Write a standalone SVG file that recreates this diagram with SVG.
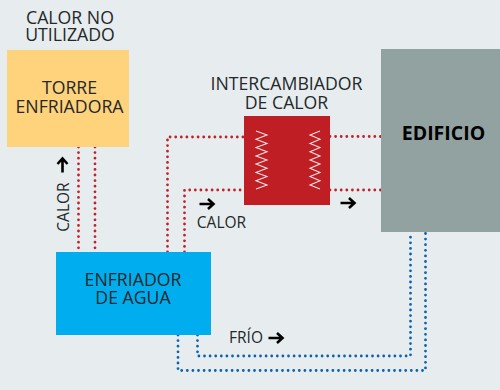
<svg xmlns="http://www.w3.org/2000/svg" width="500" height="390" viewBox="0 0 500 390">
<defs><path id="arr" d="M-7.500 0H6M1 -5L6.500 0L1 5" fill="none" stroke="#000" stroke-width="2.600"/></defs>
<style>
text{font-family:"Open Sans","Noto Sans","Liberation Sans",sans-serif;fill:#23282a;text-anchor:middle;font-weight:400}
.l{font-size:17.700px}.s{font-size:15.500px}
.r,.b{fill:none;stroke-width:2.800;stroke-linecap:round;stroke-dasharray:0 5.600}
.r{stroke:#c1202a}.b{stroke:#0a62ae}
.z{fill:none;stroke:#f6e2e2;stroke-width:1.100}
</style>
<rect width="500" height="390" fill="#e7edee"/>
<g id="connectors">
<path class="r" d="M78.500 147V252M95 147V252"/>
<path class="r" d="M167.500 252V137H244M184.500 252V190H244M330 136.500H381M330 190H381"/>
<path class="b" d="M178 335V370.500H425.500V232M197.500 335V356H410.500V232"/>
</g>
<g id="torre"><rect x="7" y="50" width="122" height="97" fill="#ffd27c"/>
<text class="l"><tspan x="69.500" y="93.500">TORRE</tspan><tspan x="69.500" y="112.500">ENFRIADORA</tspan></text></g>
<g id="calor-no-utilizado"><text class="l"><tspan x="70" y="24">CALOR NO</tspan><tspan x="70" y="41">UTILIZADO</tspan></text></g>
<g id="enfriador"><rect x="56" y="252" width="155" height="83" fill="#00aeef"/>
<text class="l"><tspan x="133" y="286">ENFRIADOR</tspan><tspan x="133" y="304">DE AGUA</tspan></text></g>
<g id="intercambiador"><rect x="244" y="116" width="86" height="89" fill="#be1e24"/>
<path class="z" d="M256 131L267 135.100L256 139.300L267 143.400L256 147.600L267 151.700L256 155.900L267 160L256 164.100L267 168.300L256 172.400L267 176.600L256 180.700L267 184.900L256 189"/>
<path class="z" d="M320 131L310 135.100L320 139.300L310 143.400L320 147.600L310 151.700L320 155.900L310 160L320 164.100L310 168.300L320 172.400L310 176.600L320 180.700L310 184.900L320 189"/>
<text class="l"><tspan x="286.500" y="90">INTERCAMBIADOR</tspan><tspan x="286.500" y="109">DE CALOR</tspan></text></g>
<g id="edificio"><rect x="381" y="49" width="119" height="183" fill="#92a2a0"/>
<text x="443.500" y="140" font-size="19.500" style="fill:#000;font-weight:700">EDIFICIO</text></g>
<g id="labels">
<text class="s" x="221.500" y="228">CALOR</text>
<text class="s" x="246" y="343">FRÍO</text>
<text class="s" transform="translate(69 207) rotate(-90)">CALOR</text>
<use href="#arr" x="207" y="204"/>
<use href="#arr" x="348" y="203"/>
<use href="#arr" x="276" y="338"/>
<use href="#arr" transform="translate(62.500 165) rotate(-90)"/>
</g>
</svg>
